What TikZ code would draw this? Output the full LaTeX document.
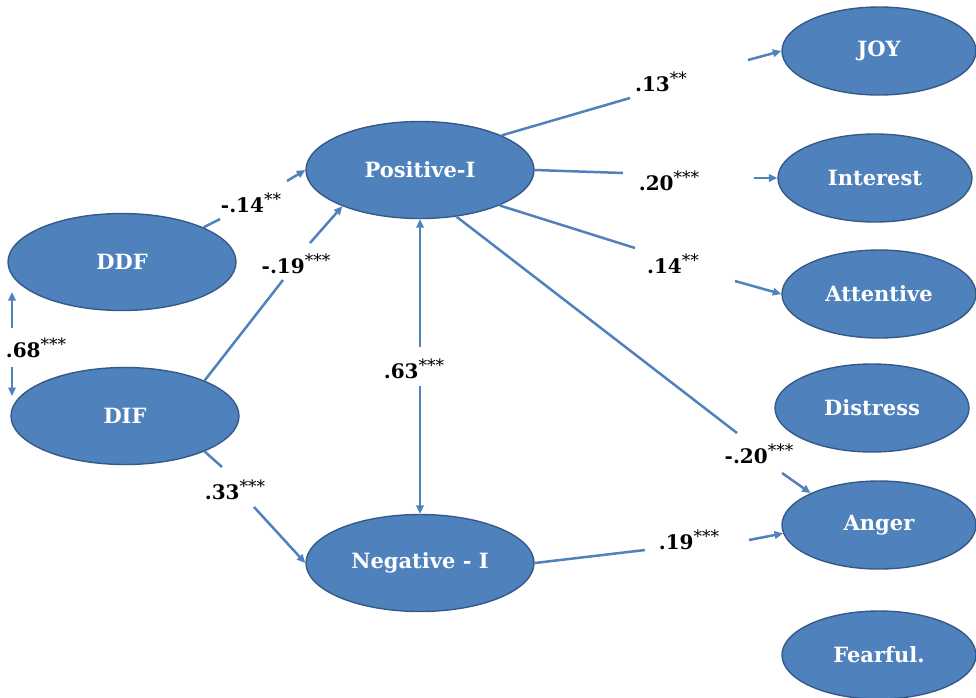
\documentclass[tikz,border=0pt]{standalone}
\usepackage{fontspec}
\setmainfont{DejaVu Serif}
\usetikzlibrary{shapes.geometric,arrows.meta}
\definecolor{ofblue}{HTML}{4F81BD}
\definecolor{ofedge}{HTML}{355A88}
\newcommand{\sigst}[1]{\raisebox{0.36em}{\fontsize{17}{17}\selectfont\mdseries #1}}
\begin{document}
\begin{tikzpicture}[x=1pt,y=-1pt,
  latent/.style={ellipse, fill=ofblue, draw=ofedge, line width=1.4pt, text=white,
    font=\fontsize{21}{21}\selectfont\bfseries, inner sep=0pt},
  big/.style={latent, minimum width=228pt, minimum height=97pt},
  emo/.style={latent, minimum width=194pt, minimum height=88pt},
  conn/.style={draw=ofblue, line width=2.5pt},
  arr/.style={conn, -{Triangle[length=8.5pt,width=7.5pt]}},
  coef/.style={font=\fontsize{20}{20}\selectfont\bfseries, text=black, inner sep=0pt}
]
\useasboundingbox (0,0) rectangle (976,697);
% latent variables
\node[big] (ddf) at (122,262) {DDF};
\node[big] (dif) at (125,416) {DIF};
\node[big] (pos) at (420,170) {Positive-I};
\node[big] (neg) at (420,563) {Negative - I};
\node[emo] (joy) at (879,51) {JOY};
\node[emo] (int) at (875,178) {Interest};
\node[emo] (att) at (879,294) {Attentive};
\node[emo] (dis) at (872,408) {Distress};
\node[emo] (ang) at (879,525) {Anger};
\node[emo] (fea) at (879,655) {Fearful.};
% break points of the connectors
\coordinate (a1) at (220,219); \coordinate (a2) at (287,181);
\coordinate (b1) at (283,280); \coordinate (b2) at (310,243);
\coordinate (c1) at (222,467); \coordinate (c2) at (254,507);
\coordinate (d1) at (420,347); \coordinate (d2) at (420,386);
\coordinate (e1) at (12,328);  \coordinate (e2) at (12,292);
\coordinate (e3) at (12,367);  \coordinate (e4) at (12,396);
\coordinate (f1) at (630,98);  \coordinate (f2) at (748,60);
\coordinate (g1) at (623,173); \coordinate (g2) at (754,178);
\coordinate (h1) at (635,248); \coordinate (h2) at (735,281);
\coordinate (k1) at (737,433); \coordinate (k2) at (782,473);
\coordinate (l1) at (645,550); \coordinate (l2) at (749,540);
% connectors
\draw[conn] (ddf.23) -- (a1);  \draw[arr] (a2) -- (pos.west);
\draw[conn] (dif.24) -- (b1);  \draw[arr] (b2) -- (pos.205);
\draw[conn] (dif.336) -- (c1); \draw[arr] (c2) -- (neg.west);
\draw[arr] (d1) -- (pos.south); \draw[arr] (d2) -- (neg.north);
\draw[arr] (e1) -- (e2); \draw[arr] (e3) -- (e4);
\draw[conn] (pos.23) -- (f1);  \draw[arr] (f2) -- (joy.west);
\draw[conn] (pos.east) -- (g1); \draw[arr] (g2) -- (int.west);
\draw[conn] (pos.-24) -- (h1); \draw[arr] (h2) -- (att.west);
\draw[conn] (pos.-52) -- (k1); \draw[arr] (k2) -- (ang.155);
\draw[conn] (neg.east) -- (l1); \draw[arr] (l2) -- (ang.185);
% coefficients
\node[coef] (la) at (251,203) {-.14\sigst{**}};
\node[coef] (lb) at (296,264) {-.19\sigst{***}};
\node[coef] (lc) at (235,490) {.33\sigst{***}};
\node[coef] (ld) at (414,369) {.63\sigst{***}};
\node[coef] (le) at (36,348) {.68\sigst{***}};
\node[coef] (lf) at (661,82) {.13\sigst{**}};
\node[coef] (lg) at (669,181) {.20\sigst{***}};
\node[coef] (lh) at (673,264) {.14\sigst{**}};
\node[coef] (lk) at (759,454) {-.20\sigst{***}};
\node[coef] (ll) at (689,540) {.19\sigst{***}};
\end{tikzpicture}
\end{document}
